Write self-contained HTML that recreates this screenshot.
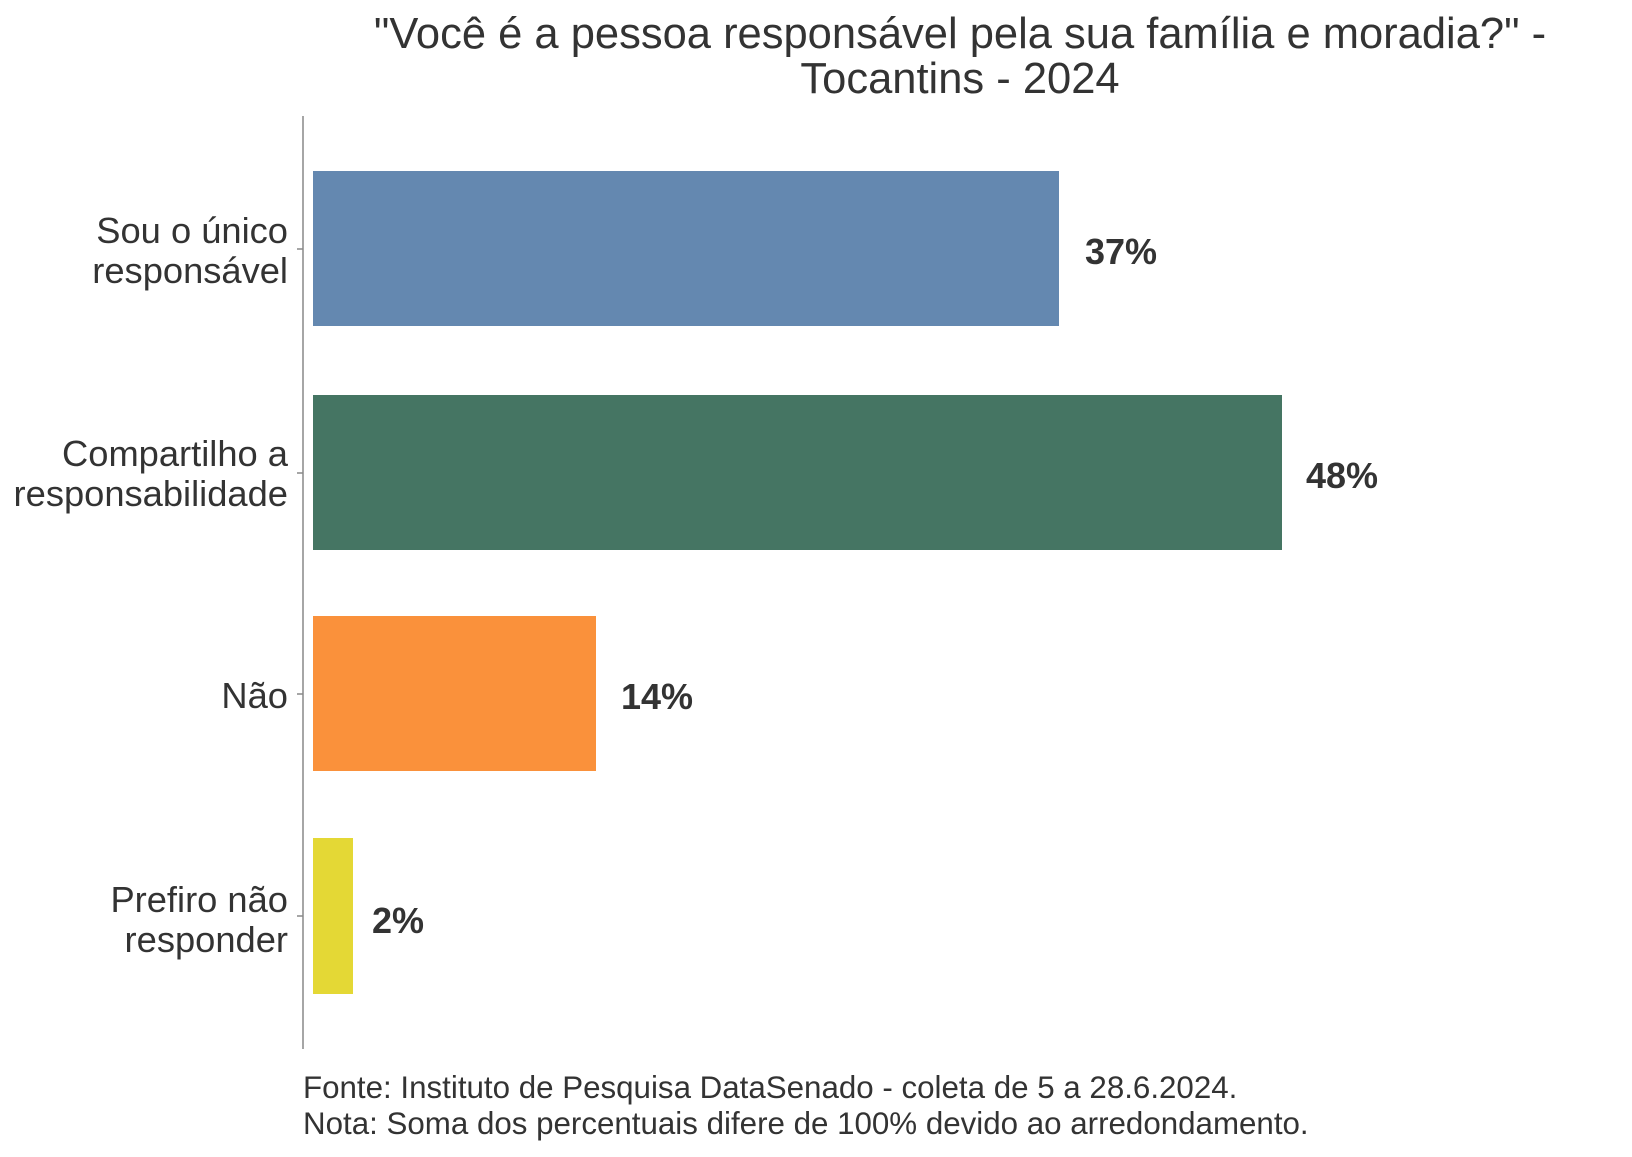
<!DOCTYPE html>
<html><head><meta charset="utf-8"><style>
body{margin:0;background:#fff}
svg text{font-family:"Liberation Sans",Arial,sans-serif;fill:#333}
</style></head><body>
<svg width="1632" height="1152" xmlns="http://www.w3.org/2000/svg">
<text x="960" y="48" font-size="43.5" text-anchor="middle">"Você é a pessoa responsável pela sua família e moradia?" -</text>
<text x="960" y="93" font-size="43.5" text-anchor="middle">Tocantins - 2024</text>
<line x1="303" y1="116" x2="303" y2="1049" stroke="#888" stroke-width="1.5"/>
<g stroke="#888" stroke-width="1.5">
<line x1="297" y1="249" x2="303" y2="249"/><line x1="297" y1="473" x2="303" y2="473"/>
<line x1="297" y1="694" x2="303" y2="694"/><line x1="297" y1="916" x2="303" y2="916"/></g>
<rect x="313" y="171" width="746" height="155" fill="#6488b0"/>
<rect x="313" y="395" width="969" height="155" fill="#457563"/>
<rect x="313" y="616" width="283" height="155" fill="#fa913b"/>
<rect x="313" y="838" width="40" height="156" fill="#e4d835"/>
<g font-size="36" font-weight="bold">
<text x="1085" y="264">37%</text><text x="1306" y="488">48%</text>
<text x="621" y="709">14%</text><text x="372" y="933">2%</text></g>
<g font-size="36.3" text-anchor="end">
<text x="288" y="243">Sou o único</text><text x="288" y="283">responsável</text>
<text x="288" y="466">Compartilho a</text><text x="288" y="506">responsabilidade</text>
<text x="288" y="708">Não</text>
<text x="288" y="912">Prefiro não</text><text x="288" y="952">responder</text></g>
<g font-size="31.3">
<text x="303" y="1098">Fonte: Instituto de Pesquisa DataSenado - coleta de 5 a 28.6.2024.</text>
<text x="303" y="1134">Nota: Soma dos percentuais difere de 100% devido ao arredondamento.</text></g>
</svg>
</body></html>
